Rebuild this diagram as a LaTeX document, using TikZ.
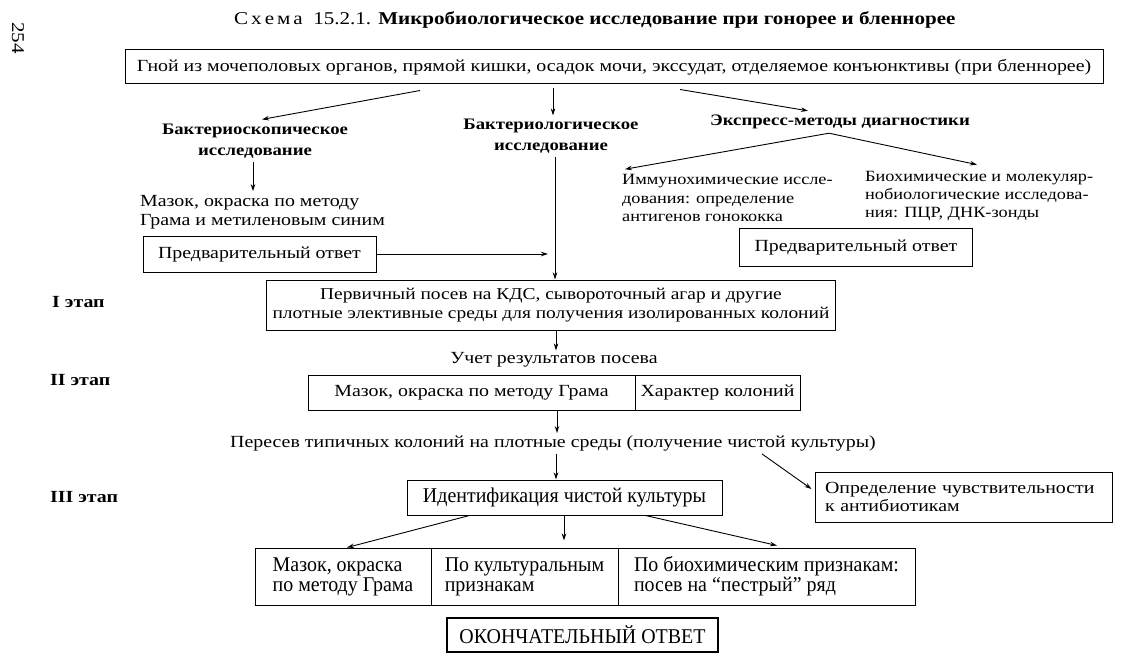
\documentclass[tikz,border=0pt]{standalone}
\usepackage{fontspec}
\setmainfont{Liberation Serif}[FakeStretch=1.17]
\newfontfamily\condfont{Liberation Serif}[FakeStretch=0.95]
\usetikzlibrary{arrows.meta}
\tikzset{
  base/.style={inner sep=0pt, font=\fontsize{17}{18.5}\selectfont},
  txt/.style={base, align=left},
  small/.style={base, align=left, font=\fontsize{15.6}{18.4}\selectfont},
  head/.style={base, align=center, font=\fontsize{16}{21.5}\selectfont\bfseries},
  etap/.style={base, anchor=west, font=\fontsize{17}{19}\selectfont\bfseries},
  box/.style={base, draw, line width=1pt, align=center},
  lbox/.style={base, draw, line width=1pt, align=left, inner xsep=10pt, text width=#1},
  cbox/.style={base, draw, line width=1pt, align=left, font=\fontsize{21}{20}\selectfont\condfont},
  arr/.style={-{Stealth[length=7pt,width=4.5pt]}, line width=0.9pt}
}
\begin{document}
\begin{tikzpicture}[x=1pt,y=-1pt]
\useasboundingbox (0,0) rectangle (1122,666);
\node[base, rotate=-90, font=\fontsize{18}{18}\selectfont] (page) at (18,38) {254};
\node[base, anchor=west, font=\fontsize{18}{19}\selectfont] (title) at (234,20) {С\,х\,е\,м\,а\ \ 15.2.1. \textbf{Микробиологическое исследование при гонорее и бленнорее}};
\node[box, minimum width=978pt, minimum height=34pt] (src) at (614,67) {Гной из мочеполовых органов, прямой кишки, осадок мочи, экссудат, отделяемое конъюнктивы (при бленнорее)};
\node[head] (bsc) at (255,141) {Бактериоскопическое\\исследование};
\node[head] (bkl) at (551,136) {Бактериологическое\\исследование};
\node[head] (exp) at (840,122) {Экспресс-методы диагностики};
\node[txt, anchor=west] (sm1) at (140,212) {Мазок, окраска по методу\\Грама и метиленовым синим};
\node[box, minimum width=233pt, minimum height=36pt] (pre1) at (259.5,254) {Предварительный ответ};
\node[small, anchor=west] (imm) at (622,198) {Иммунохимические иссле-\\дования: определение\\антигенов гонококка};
\node[small, anchor=west] (bio) at (865,196) {Биохимические и молекуляр-\\нобиологические исследова-\\ния: ПЦР, ДНК-зонды};
\node[box, minimum width=233pt, minimum height=38pt] (pre2) at (856,247) {Предварительный ответ};
\node[box, minimum width=569pt, minimum height=50pt, font=\fontsize{16.6}{18.5}\selectfont] (st1) at (551,305) {Первичный посев на КДС, сывороточный агар и другие\\плотные элективные среды для получения изолированных колоний};
\node[etap] (e1) at (52,302) {I этап};
\node[base] (uch) at (554,360) {Учет результатов посева};
\node[box, minimum width=327pt, minimum height=35pt] (g2a) at (471.5,392.5) {Мазок, окраска по методу Грама};
\node[box, minimum width=165pt, minimum height=35pt] (g2b) at (717.5,392.5) {Характер колоний};
\node[etap] (e2) at (50,380) {II этап};
\node[base] (per) at (553,443) {Пересев типичных колоний на плотные среды (получение чистой культуры)};
\node[cbox, align=center, minimum width=315pt, minimum height=35pt] (ident) at (564.5,497.5) {Идентификация чистой культуры};
\node[lbox=277pt, minimum height=50pt] (antib) at (963.5,497) {Определение чувствительности\\к антибиотикам};
\node[etap] (e3) at (50,497) {III этап};
\node[cbox, minimum width=176pt, minimum height=57pt] (c1) at (343,576.5) {Мазок, окраска\\по методу Грама};
\node[cbox, minimum width=187pt, minimum height=57pt] (c2) at (524.5,576.5) {По культуральным\\признакам};
\node[cbox, minimum width=297pt, minimum height=57pt] (c3) at (766.5,576.5) {По биохимическим признакам:\\посев на “пестрый” ряд};
\node[cbox, align=center, minimum width=271pt, minimum height=34pt, line width=1.3pt] (fin) at (582.5,635) {ОКОНЧАТЕЛЬНЫЙ ОТВЕТ};
% arrows
\coordinate (vl) at ([xshift=4pt,yshift=-3pt]bkl.south);
\coordinate (ex) at ([xshift=-11pt,yshift=-4pt]exp.south);
\draw[arr] ([xshift=-194pt,yshift=-6pt]src.south) -- ([xshift=7pt,yshift=4pt]bsc.north);
\draw[arr] ([xshift=-61pt,yshift=-4pt]src.south) -- ([xshift=2pt,yshift=3pt]bkl.north);
\draw[arr] ([xshift=66pt,yshift=-5pt]src.south) -- ([xshift=-32pt,yshift=4pt]exp.north);
\draw[arr] ([xshift=-2pt,yshift=-3pt]bsc.south) -- ([xshift=-2pt,yshift=4pt]bsc.south |- sm1.north);
\draw[arr] (pre1.east) -- ([xshift=-7pt]vl |- pre1.east);
\draw[arr] (vl) -- (vl |- st1.north);
\draw[arr] (ex) -- ([xshift=3pt,yshift=5pt]imm.north west);
\draw[arr] (ex) -- ([xshift=112pt,yshift=6pt]bio.north west);
\draw[arr] ([xshift=5pt]st1.south) -- ([xshift=2pt,yshift=2pt]uch.north);
\draw[arr] ([xshift=85.5pt]g2a.south) -- ([xshift=4pt,yshift=2pt]per.north);
\draw[arr] ([xshift=3pt,yshift=-3pt]per.south) -- ([xshift=-8.5pt]ident.north);
\draw[arr] ([xshift=209pt,yshift=-3pt]per.south) -- ([xshift=-3pt,yshift=8pt]antib.west);
\draw[arr] ([xshift=63pt]ident.south west) -- ([xshift=4pt]c1.north);
\draw[arr] ([xshift=-0.5pt]ident.south) -- ([xshift=39.5pt,yshift=7pt]c2.north);
\draw[arr] ([xshift=-77pt]ident.south east) -- ([xshift=10.5pt,yshift=2pt]c3.north);
\end{tikzpicture}
\end{document}
